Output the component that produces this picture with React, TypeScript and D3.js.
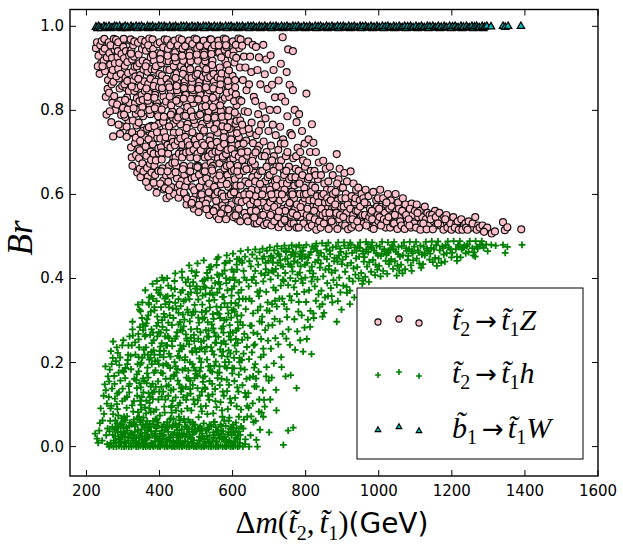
import { scaleLinear, symbol, symbolTriangle } from "d3";

// axis ticks
const X_TICKS = [200, 400, 600, 800, 1000, 1200, 1400, 1600];
const Y_TICKS = [0, 0.2, 0.4, 0.6, 0.8, 1.0];

// Br(t2 -> t1 Z), [dm, br]
const PINK_Z: [number, number][] = [
  // 220-300
  [226,.948],[229,.962],[233,.93],[236,.887],[238,.955],[240,.912],[231,.905],
  [242,.965],[245,.94],[247,.918],[249,.97],[251,.893],[253,.832],[255,.79],[257,.955],[259,.872],[244,.905],[250,.947],[256,.926],[258,.851],
  [261,.962],[263,.936],[265,.909],[267,.884],[269,.862],[271,.818],[273,.738],[275,.97],[277,.944],[279,.801],[262,.842],[266,.955],[268,.772],[270,.925],[272,.896],[274,.868],[276,.834],[278,.912],[264,.798],
  [281,.968],[283,.951],[285,.927],[287,.899],[289,.876],[291,.852],[293,.823],[295,.789],[297,.762],[299,.959],[282,.881],[284,.814],[286,.941],[288,.766],[290,.913],[292,.744],[294,.887],[296,.934],[298,.858],[300,.806],[287,.962],
  // 300-380
  [301,.951],[303,.924],[305,.906],[307,.878],[309,.853],[311,.831],[313,.802],[315,.776],[317,.745],[319,.966],[302,.97],[304,.862],[306,.784],[308,.941],[310,.737],[312,.915],[314,.889],[316,.846],[318,.818],[320,.938],[310,.761],
  [303,.79],[312,.87],[317,.93],[306,.825],
  [321,.969],[323,.944],[325,.921],[327,.893],[329,.871],[331,.846],[333,.818],[335,.792],[337,.764],[339,.742],[322,.712],[324,.688],[326,.668],[328,.955],[330,.928],[332,.904],[334,.881],[336,.853],[338,.829],[340,.801],[327,.776],[333,.722],[336,.694],[339,.652],[325,.748],[331,.964],
  [322,.935],[329,.805],[335,.735],[338,.905],[324,.857],
  [341,.961],[343,.933],[345,.912],[347,.884],[349,.858],[351,.837],[353,.808],[355,.786],[357,.758],[359,.737],[342,.709],[344,.686],[346,.661],[348,.641],[350,.968],[352,.946],[354,.918],[356,.897],[358,.869],[360,.846],[345,.822],[350,.793],[355,.751],[358,.697],[343,.771],[353,.674],[347,.727],
  [342,.875],[349,.745],[354,.825],[359,.955],[346,.705],[356,.655],
  [361,.964],[363,.942],[365,.913],[367,.892],[369,.863],[371,.841],[373,.813],[375,.791],[377,.763],[379,.742],[362,.714],[364,.692],[366,.663],[368,.642],[370,.618],[372,.971],[374,.948],[376,.926],[378,.898],[380,.877],[364,.852],[368,.823],[372,.801],[376,.702],[366,.756],[374,.673],[378,.652],[370,.731],
  [362,.905],[367,.832],[371,.76],[377,.682],[363,.63],[375,.875],[369,.955],
  // 380-460
  [381,.969],[383,.946],[385,.918],[387,.897],[389,.868],[391,.847],[393,.818],[395,.796],[397,.768],[399,.747],[382,.719],[384,.697],[386,.668],[388,.646],[390,.622],[392,.604],[394,.958],[396,.936],[398,.908],[400,.887],[384,.858],[388,.837],[392,.809],[396,.786],[398,.698],[386,.762],[394,.734],[390,.681],[397,.656],
  [382,.932],[387,.805],[393,.748],[399,.855],[384,.628],[397,.71],[390,.905],[386,.83],
  [401,.962],[403,.934],[405,.912],[407,.883],[409,.862],[411,.833],[413,.812],[415,.783],[417,.762],[419,.591],[402,.733],[404,.712],[406,.683],[408,.662],[410,.633],[412,.612],[414,.969],[416,.947],[418,.918],[420,.897],[404,.868],[408,.847],[412,.748],[416,.727],[406,.802],[410,.773],[414,.698],[418,.645],[402,.626],[418,.821],
  [402,.922],[407,.853],[412,.785],[417,.736],[404,.655],[419,.875],[410,.95],[415,.615],[406,.7],
  [421,.968],[423,.946],[425,.917],[427,.896],[429,.867],[431,.846],[433,.818],[435,.797],[437,.768],[439,.747],[422,.718],[424,.697],[426,.668],[428,.597],[430,.647],[432,.618],[434,.961],[436,.933],[438,.912],[440,.883],[424,.862],[428,.833],[432,.812],[436,.783],[438,.686],[426,.762],[434,.733],[430,.712],[440,.601],[422,.655],
  [422,.93],[427,.855],[431,.79],[437,.725],[424,.63],[439,.905],[430,.955],[435,.675],[426,.61],
  [441,.966],[443,.938],[445,.917],[447,.888],[449,.867],[451,.838],[453,.817],[455,.788],[457,.767],[459,.738],[442,.717],[444,.688],[446,.667],[448,.638],[450,.617],[452,.592],[454,.971],[456,.948],[458,.927],[460,.898],[444,.877],[448,.848],[452,.827],[456,.798],[458,.702],[446,.777],[454,.748],[450,.727],[460,.632],[442,.676],[456,.606],
  [442,.926],[447,.858],[451,.783],[457,.733],[444,.653],[459,.905],[450,.955],[455,.623],[446,.823],[453,.697],
  // 460-540
  [461,.968],[463,.947],[465,.918],[467,.897],[469,.868],[471,.847],[473,.818],[475,.797],[477,.768],[479,.747],[462,.718],[464,.697],[466,.668],[468,.647],[470,.618],[472,.597],[474,.576],[476,.958],[478,.937],[480,.908],[464,.887],[468,.858],[472,.837],[476,.808],[478,.716],[466,.787],[474,.758],[470,.737],[480,.656],[462,.688],[476,.632],[467,.604],
  [462,.93],[467,.853],[471,.787],[477,.726],[464,.66],[479,.878],[470,.953],[475,.59],[466,.828],[473,.7],
  [481,.966],[483,.938],[485,.917],[487,.888],[489,.867],[491,.838],[493,.817],[495,.788],[497,.767],[499,.738],[482,.717],[484,.688],[486,.667],[488,.638],[490,.617],[492,.588],[494,.566],[496,.971],[498,.948],[500,.927],[484,.898],[488,.877],[492,.848],[496,.827],[498,.723],[486,.798],[494,.777],[490,.748],[500,.667],[482,.702],[496,.641],[487,.576],[499,.602],
  [482,.93],[487,.852],[491,.785],[497,.73],[484,.655],[499,.883],[490,.958],[495,.61],[486,.827],[493,.706],[488,.58],
  [501,.969],[503,.947],[505,.918],[507,.897],[509,.868],[511,.847],[513,.818],[515,.797],[517,.768],[519,.747],[502,.718],[504,.697],[506,.668],[508,.647],[510,.618],[512,.597],[514,.568],[516,.958],[518,.937],[520,.908],[504,.887],[508,.858],[512,.837],[516,.808],[518,.706],[506,.787],[514,.758],[510,.737],[520,.656],[502,.686],[516,.632],[507,.558],[519,.586],
  [502,.933],[507,.851],[511,.79],[517,.723],[504,.665],[519,.88],[510,.953],[515,.6],[506,.826],[513,.705],[508,.575],
  [521,.966],[523,.938],[525,.917],[527,.888],[529,.867],[531,.838],[533,.817],[535,.788],[537,.767],[539,.738],[522,.717],[524,.688],[526,.667],[528,.638],[530,.617],[532,.588],[534,.566],[536,.551],[538,.969],[540,.948],[524,.927],[528,.898],[532,.877],[536,.848],[538,.702],[526,.827],[534,.798],[530,.777],[540,.676],[522,.752],[536,.626],[527,.578],[539,.602],
  [522,.932],[527,.855],[531,.782],[537,.728],[524,.655],[539,.88],[530,.955],[535,.605],[526,.81],[533,.69],[528,.565],
  // 540-620
  [541,.969],[543,.947],[545,.918],[547,.897],[549,.868],[551,.847],[553,.818],[555,.797],[557,.768],[559,.747],[542,.718],[544,.697],[546,.668],[548,.647],[550,.618],[552,.597],[554,.568],[556,.548],[558,.958],[560,.937],[544,.908],[548,.887],[552,.858],[556,.837],[558,.712],[546,.808],[554,.787],[550,.756],[560,.686],[542,.662],[556,.636],[547,.561],[559,.606],
  [542,.934],[547,.852],[551,.783],[557,.725],[544,.657],[559,.878],[550,.955],[555,.585],[546,.83],[553,.702],[548,.56],
  [561,.966],[563,.938],[565,.902],[567,.874],[569,.851],[571,.823],[573,.801],[575,.773],[577,.752],[579,.724],[562,.702],[564,.674],[566,.652],[568,.624],[570,.602],[572,.574],[574,.552],[576,.971],[578,.944],[580,.918],[564,.848],[568,.798],[572,.762],[576,.736],[578,.662],[566,.712],[574,.686],[570,.636],[580,.588],[562,.541],[577,.566],[569,.926],
  [562,.955],[567,.862],[571,.785],[577,.72],[564,.645],[579,.83],[570,.888],[575,.595],[566,.812],[573,.69],[568,.555],
  [581,.969],[583,.951],[585,.908],[587,.886],[589,.858],[591,.832],[593,.798],[595,.772],[597,.746],[599,.718],[582,.696],[584,.668],[586,.646],[588,.618],[590,.596],[592,.568],[594,.551],[596,.961],[598,.936],[600,.882],[584,.842],[588,.786],[592,.756],[596,.731],[598,.656],[586,.706],[594,.681],[590,.632],[600,.606],[582,.541],[597,.576],[589,.934],
  [582,.955],[587,.87],[591,.8],[597,.708],[584,.625],[599,.845],[590,.895],[595,.6],[586,.76],[593,.67],[588,.565],
  [601,.964],[603,.941],[605,.914],[607,.872],[609,.838],[611,.812],[613,.786],[615,.758],[617,.736],[619,.708],[602,.686],[604,.658],[606,.636],[608,.608],[610,.586],[612,.558],[614,.541],[616,.971],[618,.948],[620,.902],[604,.822],[608,.768],[612,.746],[616,.718],[618,.646],[606,.696],[614,.668],[610,.621],[620,.596],[602,.546],[617,.566],[609,.956],
  [602,.93],[607,.855],[611,.775],[617,.69],[604,.605],[619,.825],[610,.925],[615,.585],[606,.795],[613,.655],[608,.55],
  // 620-700
  [622,.969],[626,.954],[631,.928],[635,.902],[628,.872],[638,.848],[624,.822],[633,.798],[621,.776],[629,.752],[637,.728],[623,.706],[627,.682],[631,.656],[635,.631],[639,.606],[625,.582],[633,.556],[621,.536],[637,.546],[630,.721],[640,.692],[622,.621],[626,.766],[634,.666],[638,.586],
  [643,.964],[648,.928],[655,.956],[651,.891],[645,.862],[658,.832],[642,.796],[652,.771],[647,.746],[656,.722],[641,.702],[650,.676],[659,.652],[644,.626],[653,.601],[648,.576],[657,.556],[642,.536],[660,.531],[646,.661],[654,.641],[658,.586],[650,.561],[644,.756],[656,.691],[652,.611],
  [664,.951],[672,.926],[668,.896],[676,.862],[662,.822],[670,.791],[678,.766],[665,.741],[673,.716],[680,.691],[661,.671],[669,.646],[677,.621],[663,.596],[671,.571],[679,.551],[666,.531],[674,.536],[668,.706],[676,.656],[662,.631],[670,.611],[678,.586],[664,.561],[672,.751],
  [684,.956],[692,.921],[688,.886],[696,.851],[682,.811],[690,.781],[698,.751],[685,.726],[693,.701],[700,.676],[681,.656],[689,.631],[697,.606],[683,.581],[691,.561],[699,.541],[686,.527],[694,.531],[688,.691],[696,.641],[682,.616],[690,.596],[698,.571],[684,.551],[693,.666],
  [624,.7],[632,.6],[638,.66],[646,.6],[654,.68],[659,.545],[668,.58],[675,.625],[663,.7],[687,.61],[695,.57],[681,.6],
  // 700-800
  [704,.931],[712,.896],[708,.861],[716,.831],[702,.801],[710,.766],[718,.741],[705,.716],[713,.691],[720,.666],[701,.646],[709,.621],[717,.601],[703,.581],[711,.561],[719,.541],[706,.526],[714,.536],[708,.681],[716,.631],[702,.611],[710,.591],[718,.571],[704,.551],[712,.656],
  [737,.974],[732,.911],[726,.871],[734,.832],[722,.801],[730,.761],[738,.731],[725,.706],[733,.681],[740,.656],[721,.636],[729,.616],[737,.596],[723,.576],[731,.556],[739,.537],[726,.522],[734,.531],[728,.666],[736,.626],[722,.601],[730,.586],[738,.566],[724,.546],[732,.721],
  [752,.945],[748,.891],[756,.861],[744,.821],[750,.786],[758,.746],[742,.721],[746,.691],[754,.666],[741,.646],[749,.626],[757,.606],[743,.591],[751,.571],[759,.551],[745,.536],[753,.522],[760,.531],[747,.656],[755,.636],[744,.561],[758,.581],[750,.701],[742,.611],
  [765,.941],[765,.848],[775,.772],[770,.801],[762,.741],[778,.711],[766,.686],[773,.661],[761,.641],[769,.621],[777,.601],[763,.586],[771,.566],[779,.546],[767,.531],[775,.521],[764,.556],[772,.641],[780,.626],[768,.591],[776,.576],[762,.606],[774,.691],
  [782,.791],[790,.751],[797,.721],[785,.701],[793,.681],[781,.656],[788,.636],[796,.616],[784,.601],[792,.581],[799,.561],[786,.546],[794,.531],[781,.521],[789,.556],[797,.591],[783,.626],[791,.646],[798,.666],
  [706,.6],[714,.57],[719,.62],[727,.56],[735,.6],[742,.54],[756,.58],[764,.6],[776,.55],[786,.57],[795,.6],
  // 800-900
  [802,.84],[817,.767],[808,.731],[812,.701],[804,.676],[814,.656],[806,.636],[818,.621],[801,.601],[810,.586],[820,.571],[803,.551],[813,.536],[807,.521],[817,.526],[805,.566],[815,.606],[809,.641],[811,.546],
  [821,.723],[828,.701],[836,.676],[824,.656],[833,.636],[826,.616],[838,.601],[822,.586],[830,.571],[839,.556],[825,.541],[834,.526],[829,.516],[837,.536],[823,.561],[831,.596],[827,.646],[835,.581],
  [848,.68],[855,.661],[842,.646],[851,.626],[858,.611],[844,.596],[853,.581],[860,.566],[846,.551],[856,.536],[841,.521],[850,.531],[857,.546],[843,.566],[849,.601],[854,.556],[859,.591],
  [866,.666],[874,.646],[862,.631],[870,.611],[878,.596],[864,.581],[872,.566],[880,.551],[868,.541],[876,.526],[863,.518],[871,.536],[879,.571],[865,.556],[875,.601],[869,.586],
  [885,.696],[893,.661],[890,.636],[897,.616],[882,.606],[888,.586],[896,.571],[884,.556],[892,.541],[899,.526],[887,.518],[894,.551],[881,.576],[898,.591],[886,.626],
  // 900-1000
  [906,.651],[913,.631],[902,.616],[910,.601],[918,.586],[904,.571],[912,.556],[920,.541],[908,.526],[916,.517],[903,.546],[915,.576],[909,.591],
  [923,.655],[931,.626],[938,.611],[926,.596],[934,.581],[922,.566],[930,.551],[939,.536],[925,.521],[933,.528],[937,.561],[928,.541],[936,.591],
  [944,.616],[953,.601],[948,.586],[957,.576],[942,.561],[951,.546],[959,.531],[946,.521],[955,.551],[941,.536],[949,.571],[958,.591],
  [964,.611],[972,.596],[968,.576],[976,.566],[962,.551],[970,.536],[979,.521],[966,.526],[974,.546],[961,.581],[978,.556],
  [985,.606],[993,.586],[989,.566],[997,.551],[982,.541],[991,.526],[999,.536],[986,.518],[995,.571],[981,.561],[998,.591],
  // 1000-1200
  [1004,.611],[1012,.591],[1008,.571],[1016,.556],[1002,.546],[1010,.531],[1019,.521],[1006,.526],[1014,.541],[1020,.576],[1001,.566],
  [1025,.601],[1033,.586],[1029,.566],[1037,.551],[1022,.536],[1031,.521],[1039,.531],[1027,.546],[1035,.571],[1021,.581],
  [1046,.601],[1053,.581],[1049,.561],[1057,.546],[1042,.531],[1051,.518],[1059,.536],[1044,.551],[1055,.566],
  [1066,.591],[1073,.576],[1069,.556],[1077,.541],[1062,.526],[1071,.518],[1079,.531],[1064,.561],[1075,.551],
  [1090,.578],[1085,.566],[1093,.551],[1082,.541],[1097,.531],[1088,.521],[1099,.561],[1084,.526],
  [1104,.576],[1112,.561],[1108,.546],[1116,.531],[1102,.521],[1119,.546],[1106,.556],[1114,.516],
  [1126,.571],[1133,.556],[1129,.541],[1137,.526],[1122,.531],[1131,.517],[1139,.551],
  [1154,.561],[1146,.551],[1150,.536],[1158,.526],[1142,.541],[1148,.517],[1156,.546],
  [1166,.556],[1173,.541],[1169,.526],[1177,.516],[1162,.531],[1179,.546],
  [1185,.551],[1192,.536],[1188,.521],[1196,.531],[1182,.541],[1199,.516],
  // 1200-1400
  [1204,.546],[1212,.531],[1208,.521],[1216,.536],[1219,.516],
  [1226,.541],[1233,.526],[1229,.516],[1237,.531],[1239,.521],
  [1246,.536],[1253,.521],[1257,.531],[1243,.516],
  [1264,.546],[1272,.526],[1268,.516],[1276,.521],
  [1284,.526],[1292,.516],[1297,.521],[1288,.511],
  [1309,.507],[1318,.512],[1340,.534],[1345,.515],[1352,.522],[1390,.517],
];

// Br(t2 -> t1 h), [dm, br]
const GREEN_H: [number, number][] = [
  // 220-300
  [224,.031],[232,.009],[237,.056],[239,.091],[229,.019],[235,.038],[244,.062],[250,.148],[252,.191],[256,.102],[258,.043],[247,.121],[254,.027],[259,.167],[248,.078],[243,.014],[253,.134],[257,.006],
  [262,0],[268,.003],[274,0],[265,.061],[261,.118],[270,.138],[264,.183],[272,.211],[273,.25],[279,.024],[266,.091],[277,.149],[263,.036],[271,.047],[268,.097],[276,.168],[278,.114],[269,.196],[275,.014],[267,.227],[279,.062],[262,.155],[273,.077],[266,.009],
  [282,0],[289,.002],[296,0],[281,.041],[287,.074],[284,.126],[293,.157],[290,.194],[286,.223],[298,.241],[295,.028],[283,.101],[299,.138],[292,.212],[288,.176],[297,.052],[285,.089],[294,.035],[291,.017],[299,.181],[283,.236],[289,.129],[296,.067],[281,.203],[293,.011],[287,.046],[298,.108],
  // 300-380
  [303,0],[309,.001],[316,0],[302,.033],[311,.072],[305,.114],[318,.149],[307,.187],[314,.218],[301,.253],[309,.046],[317,.129],[312,.196],[304,.023],[306,.163],[315,.241],[319,.057],[310,.092],[308,.009],[313,.206],[303,.071],[320,.031],[316,.144],[302,.178],[318,.262],[306,.063],[311,.118],[314,.014],
  [323,0],[329,.003],[336,0],[321,.027],[330,.064],[325,.098],[338,.139],[322,.184],[334,.219],[327,.264],[333,.048],[339,.121],[326,.297],[331,.161],[324,.241],[337,.022],[328,.083],[335,.012],[340,.196],[332,.035],[336,.158],[321,.216],[339,.067],[326,.279],[330,.108],[324,.053],[338,.172],[333,.248],[329,.019],
  [342,0],[348,.002],[355,0],[359,.004],[341,.338],[352,.306],[346,.284],[357,.231],[343,.213],[355,.162],[349,.141],[360,.093],[344,.071],[353,.024],[358,.013],[347,.058],[341,.082],[356,.129],[345,.151],[350,.199],[359,.219],[342,.268],[354,.291],[348,.322],[351,.041],[345,.009],[358,.047],[343,.179],[353,.343],[356,.069],[347,.109],[360,.262],[344,.236],[350,.088],[352,.016],
  [362,0],[368,.001],[374,0],[380,.003],[361,.372],[372,.355],[366,.303],[378,.279],[363,.236],[375,.211],[369,.164],[380,.128],[364,.109],[373,.055],[377,.036],[367,.021],[362,.052],[376,.082],[370,.127],[365,.151],[379,.196],[368,.219],[374,.266],[361,.287],[371,.338],[378,.358],[366,.029],[370,.044],[364,.007],[372,.207],[376,.143],[363,.079],[379,.246],[367,.188],[373,.104],[369,.312],
  // 380-460
  [383,0],[389,.002],[395,0],[400,.001],[381,.387],[392,.346],[386,.324],[398,.272],[384,.253],[395,.205],[389,.181],[399,.131],[382,.113],[393,.064],[387,.031],[397,.019],[383,.061],[391,.088],[385,.131],[396,.155],[388,.203],[400,.227],[382,.271],[394,.309],[386,.332],[398,.366],[390,.024],[394,.049],[399,.012],[384,.229],[393,.394],[389,.066],[397,.112],[385,.176],[392,.287],[381,.149],
  [402,0],[408,.003],[414,0],[420,.002],[403,.378],[414,.352],[407,.301],[419,.277],[402,.238],[411,.213],[417,.161],[405,.142],[413,.095],[401,.074],[409,.024],[418,.046],[404,.011],[412,.053],[416,.112],[406,.119],[419,.144],[410,.193],[401,.218],[415,.262],[408,.285],[404,.332],[417,.356],[411,.396],[406,.038],[420,.016],[403,.271],[414,.081],[409,.174],[418,.241],[412,.316],[407,.402],
  [422,0],[428,.002],[434,0],[439,.001],[421,.401],[432,.377],[426,.331],[438,.306],[423,.262],[435,.239],[429,.187],[440,.168],[424,.121],[433,.097],[427,.049],[437,.029],[422,.047],[431,.067],[436,.109],[425,.146],[439,.171],[430,.214],[421,.241],[434,.289],[428,.312],[436,.359],[424,.383],[429,.014],[437,.051],[426,.258],[433,.081],[440,.009],[423,.193],[431,.134],[438,.066],[427,.344],
  [442,0],[448,.001],[454,0],[460,.002],[441,.394],[452,.351],[446,.328],[458,.278],[443,.257],[455,.211],[449,.184],[459,.139],[444,.117],[453,.071],[447,.046],[457,.011],[451,.027],[456,.063],[445,.086],[459,.131],[450,.157],[441,.201],[454,.227],[448,.272],[456,.296],[443,.342],[458,.367],[449,.007],[455,.031],[443,.412],[451,.098],[446,.176],[457,.241],[452,.318],
  // 460-540
  [462,0],[468,.002],[474,0],[480,.001],[461,.416],[472,.391],[466,.346],[478,.319],[463,.276],[475,.252],[469,.206],[479,.181],[464,.138],[473,.111],[467,.066],[477,.045],[462,.026],[471,.048],[476,.091],[465,.117],[479,.162],[470,.186],[461,.232],[474,.257],[468,.302],[476,.326],[463,.372],[478,.398],[469,.013],[475,.029],[463,.182],[479,.064],[466,.239],[472,.142],[471,.349],[460,.084],
  [482,0],[488,.002],[494,0],[499,.001],[481,.431],[492,.391],[486,.367],[498,.321],[483,.298],[495,.251],[489,.227],[499,.181],[484,.157],[493,.112],[487,.086],[497,.041],[482,.024],[491,.058],[496,.101],[485,.126],[499,.173],[490,.196],[481,.243],[494,.266],[488,.312],[496,.337],[483,.382],[498,.406],[489,.009],[495,.034],[483,.201],[493,.053],[486,.259],[491,.147],[497,.234],[488,.418],
  [502,0],[508,.001],[514,0],[519,.002],[501,.415],[512,.374],[506,.35],[518,.304],[503,.28],[515,.234],[509,.21],[519,.164],[504,.139],[513,.095],[507,.07],[517,.025],[511,.04],[516,.084],[505,.11],[519,.154],[510,.179],[501,.225],[514,.249],[508,.295],[516,.32],[503,.365],[518,.394],[509,.014],[515,.043],[504,.436],[506,.257],[513,.188],[517,.338],[510,.121],
  [522,0],[528,.002],[534,0],[540,.001],[521,.443],[532,.401],[526,.378],[538,.331],[523,.307],[535,.261],[529,.237],[539,.191],[524,.167],[533,.121],[527,.097],[537,.052],[522,.018],[531,.077],[536,.111],[525,.137],[539,.181],[530,.207],[521,.252],[534,.276],[528,.322],[536,.347],[523,.397],[538,.421],[529,.039],[535,.009],[524,.226],[532,.045],[527,.277],[537,.156],[530,.413],[526,.362],
  // 540-620
  [542,0],[548,.001],[554,0],[559,.002],[541,.428],[552,.389],[546,.361],[558,.318],[543,.291],[555,.247],[549,.219],[559,.176],[544,.149],[553,.108],[547,.079],[557,.036],[551,.059],[556,.094],[545,.124],[559,.163],[550,.192],[541,.236],[554,.262],[548,.304],[556,.333],[543,.377],[558,.409],[549,.021],[555,.012],[544,.227],[552,.137],[547,.281],[557,.446],[550,.349],
  [561,0],[567,.002],[573,0],[579,.001],[561,.451],[572,.411],[566,.386],[578,.341],[563,.316],[575,.271],[569,.246],[579,.201],[564,.176],[573,.131],[567,.106],[577,.062],[562,.027],[571,.086],[576,.121],[565,.146],[579,.191],[570,.216],[561,.261],[574,.286],[568,.331],[576,.356],[563,.407],[578,.436],[569,.048],[575,.017],[566,.231],[572,.071],[577,.301],[564,.376],[570,.161],
  [582,0],[588,.002],[594,0],[599,.001],[581,.437],[592,.397],[586,.372],[598,.324],[583,.302],[595,.254],[589,.229],[599,.187],[584,.159],[593,.114],[587,.089],[597,.046],[582,.016],[591,.069],[596,.104],[585,.132],[599,.174],[590,.201],[581,.244],[594,.272],[588,.317],[596,.342],[583,.389],[598,.421],[589,.034],[595,.008],[586,.214],[592,.289],[597,.359],[584,.455],[590,.147],
  [602,0],[608,.002],[614,0],[619,.001],[601,.459],[612,.421],[606,.396],[618,.351],[603,.326],[615,.281],[609,.256],[619,.211],[604,.186],[613,.141],[607,.116],[617,.071],[602,.036],[611,.096],[616,.131],[605,.156],[619,.201],[610,.226],[601,.271],[614,.296],[608,.341],[616,.366],[603,.416],[618,.446],[609,.057],[615,.026],[606,.241],[612,.311],[617,.171],[604,.381],[611,.433],
  // 620-700
  [628,0],[622,.465],[626,.437],[630,.418],[634,.452],[638,.396],[624,.373],[628,.352],[636,.327],[621,.296],[632,.268],[639,.237],[625,.206],[633,.183],[627,.146],[637,.118],[623,.088],[631,.064],[629,.043],[635,.017],[640,.097],[626,.254],[634,.006],[621,.028],[638,.161],[630,.221],[624,.312],
  [645,0],[642,.468],[646,.441],[650,.429],[654,.457],[658,.404],[644,.381],[652,.346],[656,.317],[648,.288],[641,.259],[653,.224],[659,.188],[647,.164],[643,.127],[655,.103],[651,.072],[657,.058],[649,.027],[660,.143],[645,.208],[653,.397],[657,.271],
  [668,0],[665,.016],[675,.04],[671,.178],[665,.143],[662,.469],[666,.447],[670,.433],[674,.462],[678,.412],[664,.389],[672,.358],[676,.333],[680,.296],[668,.268],[661,.243],[677,.213],[673,.112],[679,.081],[663,.061],[669,.324],[675,.371],[662,.196],
  [684,.071],[688,.095],[686,.111],[700,.034],[682,.471],[686,.452],[690,.437],[694,.466],[698,.414],[684,.393],[692,.368],[696,.343],[681,.309],[689,.277],[697,.252],[685,.219],[693,.189],[699,.157],[683,.134],[691,.422],[698,.442],
  [624,.442],[632,.402],[636,.351],[628,.289],[622,.186],[634,.128],[640,.071],[646,.352],[652,.288],[658,.241],[644,.092],[656,.167],[662,.418],[668,.368],[674,.298],[678,.256],[664,.162],[672,.083],[682,.447],[688,.408],[694,.324],[698,.288],[684,.233],[692,.167],
  // 700-800
  [707,.164],[720,.086],[702,.474],[706,.454],[710,.438],[714,.467],[718,.423],[704,.398],[712,.378],[716,.347],[701,.323],[709,.289],[717,.258],[705,.233],[713,.198],[719,.135],[703,.112],[711,.449],[715,.304],[708,.419],
  [734,.189],[739,.004],[722,.477],[726,.458],[730,.443],[734,.471],[738,.428],[724,.407],[732,.383],[736,.352],[721,.333],[729,.298],[737,.268],[725,.243],[733,.213],[728,.453],[740,.394],[723,.437],
  [745,.167],[759,.17],[752,.038],[757,.242],[742,.478],[746,.463],[750,.447],[754,.471],[758,.433],[744,.413],[752,.384],[756,.358],[741,.339],[749,.308],[753,.279],[747,.257],[760,.456],[744,.446],
  [766,.045],[775,.139],[771,.23],[780,.321],[762,.479],[766,.462],[770,.452],[774,.475],[778,.438],[764,.417],[772,.394],[776,.363],[761,.348],[769,.303],[777,.274],[768,.441],[762,.428],
  [782,.479],[786,.464],[790,.447],[794,.474],[798,.433],[784,.414],[792,.389],[796,.368],[781,.344],[789,.312],[797,.283],[785,.253],[793,.226],[788,.456],[799,.402],[786,.429],
  [704,.452],[712,.416],[718,.372],[708,.339],[724,.459],[732,.431],[738,.397],[728,.352],[746,.466],[752,.434],[758,.401],[748,.327],[764,.463],[772,.459],[778,.409],[768,.379],[784,.452],[792,.466],[798,.452],[788,.399],
  // 800-900
  [802,.48],[814,.463],[807,.449],[818,.476],[804,.437],[811,.418],[816,.393],[809,.372],[801,.344],[813,.323],[806,.302],[819,.404],[803,.256],[810,.457],[817,.428],[812,.285],[816,.22],
  [829,.483],[823,.471],[836,.455],[826,.439],[839,.426],[821,.412],[832,.398],[825,.381],[835,.362],[828,.347],[838,.333],[822,.306],[831,.466],[834,.444],[827,.477],[821,.317],
  [845,.484],[857,.469],[851,.452],[841,.436],[854,.421],[848,.405],[859,.389],[843,.371],[853,.355],[846,.339],[850,.318],[856,.478],[842,.461],[858,.446],[846,.309],
  [862,.485],[874,.474],[867,.458],[878,.441],[864,.43],[871,.414],[876,.396],[869,.377],[861,.358],[873,.343],[866,.466],[879,.449],[863,.422],[871,.358],
  [889,.486],[883,.476],[896,.463],[886,.448],[899,.434],[881,.419],[892,.402],[885,.385],[895,.367],[888,.346],[898,.326],[885,.297],[891,.455],[894,.471],[887,.44],
  // 900-1000
  [905,.486],[917,.472],[911,.459],[901,.445],[914,.431],[908,.416],[919,.4],[903,.383],[913,.366],[906,.478],[910,.452],[912,.38],
  [922,.485],[934,.474],[927,.461],[938,.448],[924,.437],[931,.424],[936,.409],[929,.393],[921,.371],[933,.355],[921,.339],[939,.466],[923,.48],
  [949,.486],[943,.477],[956,.465],[946,.452],[959,.44],[941,.427],[952,.413],[945,.4],[955,.387],[948,.473],[958,.459],[957,.395],
  [965,.487],[977,.475],[971,.463],[961,.451],[974,.439],[968,.428],[979,.416],[963,.404],[973,.392],[966,.469],[970,.481],
  [982,.486],[994,.478],[987,.467],[998,.455],[984,.444],[991,.433],[996,.421],[990,.408],[981,.473],[993,.46],
  // 1000-1200
  [1009,.487],[1003,.476],[1016,.465],[1006,.453],[1019,.442],[1001,.43],[1012,.418],[1005,.405],[1015,.47],[1008,.459],
  [1025,.486],[1037,.479],[1031,.468],[1021,.456],[1034,.446],[1028,.434],[1039,.423],[1023,.411],[1033,.472],[1026,.461],[1030,.44],
  [1042,.487],[1054,.475],[1047,.464],[1058,.452],[1044,.441],[1051,.43],[1056,.419],[1049,.407],[1041,.469],[1053,.458],
  [1069,.486],[1063,.477],[1076,.466],[1066,.455],[1079,.444],[1061,.433],[1072,.422],[1065,.412],[1075,.472],
  [1085,.487],[1097,.476],[1091,.465],[1081,.454],[1094,.443],[1088,.431],[1090,.418],[1083,.47],[1093,.46],
  [1102,.487],[1114,.478],[1107,.467],[1118,.457],[1104,.447],[1111,.436],[1116,.425],[1109,.462],
  [1129,.487],[1123,.476],[1136,.466],[1126,.455],[1139,.445],[1121,.434],[1132,.471],[1125,.46],
  [1145,.488],[1157,.479],[1151,.469],[1141,.459],[1154,.449],[1148,.439],[1159,.43],[1143,.473],
  [1162,.488],[1174,.477],[1167,.467],[1178,.457],[1164,.447],[1171,.437],[1176,.472],
  [1189,.488],[1183,.479],[1196,.47],[1186,.46],[1199,.45],[1181,.44],[1192,.474],
  // 1200-1400
  [1205,.489],[1217,.48],[1211,.47],[1201,.461],[1214,.452],[1214,.442],[1219,.475],
  [1222,.489],[1234,.479],[1227,.469],[1238,.46],[1224,.45],[1231,.473],
  [1249,.489],[1243,.481],[1256,.472],[1246,.463],[1259,.455],[1241,.477],
  [1265,.489],[1277,.48],[1271,.471],[1261,.462],[1264,.452],[1268,.476],
  [1282,.489],[1294,.481],[1287,.473],[1298,.465],[1284,.478],
  [1308,.48],[1320,.478],[1340,.48],[1346,.461],[1352,.475],[1392,.48],
  // dense low band, 270-625
  [272,.028],[276,.041],[280,.009],[284,.055],[288,.018],[286,.033],[279,.047],
  [292,.052],[295,.008],[298,.023],[301,.044],[304,.012],[307,.031],[302,.061],
  [312,.038],[315,.021],[318,.049],[321,.008],[324,.032],[327,.015],[329,.056],
  [331,.026],[334,.052],[338,.007],[341,.039],[344,.021],[347,.031],[349,.063],
  [351,.024],[354,.052],[357,.008],[360,.033],[363,.018],[366,.061],[368,.039],
  [371,.022],[374,.047],[377,.009],[381,.026],[384,.052],[387,.013],[389,.037],
  [391,.044],[394,.021],[397,.057],[401,.031],[404,.008],[407,.046],[409,.019],
  [411,.028],[414,.039],[417,.011],[421,.058],[424,.035],[427,.021],[429,.065],
  [431,.025],[434,.047],[437,.013],[441,.033],[444,.055],[447,.022],[449,.039],
  [451,.014],[454,.052],[457,.024],[461,.041],[464,.009],[467,.031],[469,.058],
  [471,.023],[474,.046],[477,.012],[481,.035],[484,.057],[487,.019],[489,.041],
  [491,.029],[494,.015],[497,.052],[501,.036],[504,.008],[507,.044],[509,.023],
  [511,.047],[514,.019],[517,.031],[521,.055],[524,.011],[527,.038],[529,.024],
  [531,.017],[534,.041],[537,.026],[541,.049],[544,.013],[547,.034],[549,.058],
  [551,.028],[554,.046],[557,.012],[561,.039],[564,.021],[567,.052],[569,.031],
  [571,.018],[574,.037],[577,.024],[581,.049],[584,.011],[587,.029],[589,.061],
  [591,.015],[594,.042],[597,.027],[601,.052],[604,.012],[607,.033],[609,.021],
  [611,.044],[614,.018],[617,.036],[620,.009],[623,.048],
  // extra body points, 340-620
  [343,.255],[347,.195],[351,.118],[355,.277],[358,.156],[345,.326],[353,.211],[349,.099],
  [362,.266],[366,.174],[370,.342],[374,.118],[378,.225],[364,.293],[372,.091],[376,.321],
  [382,.352],[386,.219],[390,.142],[394,.262],[398,.196],[384,.084],[392,.373],[396,.295],
  [402,.361],[406,.246],[410,.131],[414,.308],[418,.197],[404,.176],[412,.228],[416,.339],
  [422,.358],[426,.221],[430,.162],[434,.251],[438,.136],[424,.295],[432,.094],[436,.329],
  [442,.375],[446,.262],[450,.216],[454,.148],[458,.334],[444,.191],[452,.291],[456,.104],
  [462,.402],[466,.286],[470,.213],[474,.164],[478,.362],[464,.314],[472,.267],[476,.122],
  [482,.351],[486,.279],[490,.224],[494,.188],[498,.376],[484,.137],[492,.321],[496,.163],
  [502,.381],[506,.307],[510,.232],[514,.201],[518,.359],[504,.168],[512,.272],[516,.131],
  [522,.381],[526,.322],[530,.262],[534,.191],[538,.365],[524,.141],[532,.296],[536,.427],
  [542,.401],[546,.315],[550,.271],[554,.202],[558,.366],[544,.178],[552,.247],[556,.432],
  [562,.392],[566,.306],[570,.281],[574,.226],[578,.419],[564,.191],[572,.356],[576,.251],
  [582,.401],[586,.332],[590,.262],[594,.222],[598,.375],[584,.187],[592,.442],[596,.307],
  [602,.402],[606,.321],[610,.276],[614,.246],[618,.391],[604,.211],[612,.446],[616,.336],
];

// Br(b1 -> t1 W), [dm, br]
const CYAN_W: [number, number][] = [
  [226,.998],[230,.995],[233,1],[237,.997],[241,.995],[248,1],[251,.996],[254,.998],[262,1],[266,.995],[270,.997],[277,1],[280,.996],[283,.999],[291,1],[295,.995],
  [300,.997],[306,1],[310,.995],[313,.998],[322,1],[325,.996],[329,.997],[336,1],[340,.995],[344,.999],[351,1],[355,.996],[358,.997],[367,1],[370,.995],
  [374,.998],[381,1],[385,.996],[390,.997],[398,1],[401,.995],[405,.999],[413,1],[416,.996],[420,.997],[428,1],[432,.995],[437,.998],[444,1],[447,.996],
  [451,.997],[459,1],[462,.995],[466,.999],[474,1],[478,.996],[482,.997],[489,1],[493,.995],[497,.998],[505,1],[508,.996],[512,.997],[520,1],[523,.995],
  [527,.999],[535,1],[539,.996],[543,.997],[550,1],[554,.995],[558,.998],[566,1],[569,.996],[573,.997],[581,1],[585,.995],[589,.999],[596,1],[600,.996],
  [604,.997],[612,1],[615,.995],[619,.998],[627,1],[631,.996],[635,.997],[642,1],[646,.995],[650,.999],[657,1],[661,.996],[665,.997],[673,1],[676,.995],
  [680,.998],[688,1],[692,.996],[696,.997],[703,1],[707,.995],[711,.999],[719,1],[722,.996],[726,.997],[734,1],[738,.995],[742,.998],[749,1],[753,.996],
  [757,.997],[765,1],[768,.995],[772,.999],[780,1],[784,.996],[788,.997],[795,1],[799,.995],[803,.998],[811,1],[814,.996],[818,.997],[826,1],[830,.995],
  [834,.999],[841,1],[845,.996],[849,.997],[857,1],[860,.995],[864,.998],[872,1],[876,.996],[880,.997],[887,1],[891,.995],[895,.999],[903,1],[906,.996],
  [910,.997],[918,1],[922,.995],[926,.998],[933,1],[937,.996],[941,.997],[949,1],[952,.995],[956,.999],[964,1],[968,.996],[972,.997],[979,1],[983,.995],
  [987,.998],[995,1],[998,.996],[1002,.997],[1010,1],[1014,.995],[1018,.999],[1025,1],[1029,.996],[1033,.997],[1041,1],[1044,.995],[1048,.998],[1056,1],[1060,.996],
  [1064,.997],[1071,1],[1075,.995],[1079,.999],[1087,1],[1090,.996],[1094,.997],[1102,1],[1106,.995],[1110,.998],[1117,1],[1121,.996],[1125,.997],[1133,1],[1136,.995],
  [1140,.999],[1148,1],[1152,.996],[1156,.997],[1163,1],[1167,.995],[1171,.998],[1179,1],[1182,.996],[1186,.997],[1194,1],[1198,.995],[1202,.999],[1209,1],[1213,.996],
  [1217,.997],[1225,1],[1228,.995],[1232,.998],[1240,1],[1244,.996],[1248,.997],[1255,1],[1259,.995],[1262,.999],[1268,1],[1271,.996],[1275,.997],[1283,1],[1286,.995],
  [1290,.998],[1296,1],[1307,.999],[1340,1],[1346,.998],[1354,1],[1389,1],
];

const LEGEND_LABELS = [
  { head: "t", sub: "2", tail: "Z" },
  { head: "t", sub: "2", tail: "h" },
  { head: "b", sub: "1", tail: "W" },
];

const W = 623;
const H = 553;
const PLOT = { left: 70, right: 598, top: 9.5, bottom: 476 };
const PINK = "#ffc0cb";
const GREEN = "#008000";
const CYAN = "#00bfbf";
const SERIF = "'Liberation Serif', 'DejaVu Serif', serif";
const SANS = "'DejaVu Sans', sans-serif";

const plusPath = (s: number) => `M${-s},0H${s}M0,${-s}V${s}`;

export default function App() {
  const x = scaleLinear().domain([155, 1600]).range([PLOT.left, PLOT.right]);
  const y = scaleLinear().domain([-0.07, 1.04]).range([PLOT.bottom, PLOT.top]);
  const tri = symbol(symbolTriangle, 24)() ?? "";
  const triSmall = symbol(symbolTriangle, 14)() ?? "";

  const tickLen = 6;
  const legend = { x: 357, y: 288, w: 226, h: 171 };
  const legendRows = [322, 375, 430];
  const legendMarkX = [378, 399, 419];
  const legendJitter = [0, -3, 1];

  const renderMarker = (row: number, cx: number, cy: number, key: string) => {
    if (row === 0)
      return <circle key={key} cx={cx} cy={cy} r={3.1} fill={PINK} stroke="#000" strokeWidth={1.1} />;
    if (row === 1)
      return (
        <path key={key} d={plusPath(2.9)} transform={`translate(${cx},${cy})`} stroke={GREEN} strokeWidth={1.6} fill="none" />
      );
    return <path key={key} d={triSmall} transform={`translate(${cx},${cy})`} fill={CYAN} stroke="#000" strokeWidth={1.1} />;
  };

  return (
    <svg width={W} height={H} style={{ position: "absolute", left: 0, top: 0, background: "#fff" }}>
      <defs>
        <clipPath id="plot-clip">
          <rect x={PLOT.left} y={PLOT.top} width={PLOT.right - PLOT.left} height={PLOT.bottom - PLOT.top} />
        </clipPath>
      </defs>
      <rect x={0} y={0} width={W} height={H} fill="#fff" />

      <g clipPath="url(#plot-clip)">
        {PINK_Z.map(([dx, br], i) => (
          <circle key={`z${i}`} cx={x(dx)} cy={y(br)} r={3.5} fill={PINK} stroke="#111" strokeWidth={1.15} />
        ))}
        {GREEN_H.map(([dx, br], i) => (
          <path
            key={`h${i}`}
            d={plusPath(3.4)}
            transform={`translate(${x(dx)},${y(br)})`}
            stroke={GREEN}
            strokeWidth={1.8}
            fill="none"
          />
        ))}
        {CYAN_W.map(([dx, br], i) => (
          <path key={`w${i}`} d={tri} transform={`translate(${x(dx)},${y(br)})`} fill={CYAN} stroke="#000" strokeWidth={1.25} />
        ))}
      </g>

      {/* ticks on all four sides, pointing inward */}
      <g stroke="#000" strokeWidth={1}>
        {X_TICKS.map((t) => (
          <g key={`xt${t}`}>
            <line x1={x(t)} x2={x(t)} y1={PLOT.bottom} y2={PLOT.bottom - tickLen} />
            <line x1={x(t)} x2={x(t)} y1={PLOT.top} y2={PLOT.top + tickLen} />
          </g>
        ))}
        {Y_TICKS.map((t) => (
          <g key={`yt${t}`}>
            <line x1={PLOT.left} x2={PLOT.left + tickLen} y1={y(t)} y2={y(t)} />
            <line x1={PLOT.right} x2={PLOT.right - tickLen} y1={y(t)} y2={y(t)} />
          </g>
        ))}
      </g>
      <rect
        x={PLOT.left}
        y={PLOT.top}
        width={PLOT.right - PLOT.left}
        height={PLOT.bottom - PLOT.top}
        fill="none"
        stroke="#000"
        strokeWidth={1.4}
      />

      <g fontFamily={SANS} fontSize={15} fill="#000">
        {X_TICKS.map((t) => (
          <text key={`xl${t}`} x={x(t)} y={PLOT.bottom + 20} textAnchor="middle">
            {t}
          </text>
        ))}
        {Y_TICKS.map((t) => (
          <text key={`yl${t}`} x={PLOT.left - 6} y={y(t) + 5} textAnchor="end">
            {t.toFixed(1)}
          </text>
        ))}
      </g>

      {/* axis titles */}
      <text transform="translate(32,238) rotate(-90)" textAnchor="middle" fontFamily={SERIF} fontStyle="italic" fontSize={35}>
        Br
      </text>
      <text x={332} y={533} textAnchor="middle" fontSize={31} fontFamily={SERIF}>
        <tspan>Δ</tspan>
        <tspan fontStyle="italic">m</tspan>
        <tspan>(</tspan>
        <tspan fontStyle="italic">t&#x0303;</tspan>
        <tspan fontSize={20} dy={7}>2</tspan>
        <tspan dy={-7}>,</tspan>
        <tspan dx={5} fontStyle="italic">t&#x0303;</tspan>
        <tspan fontSize={20} dy={7}>1</tspan>
        <tspan dy={-7}>)</tspan>
        <tspan fontFamily={SANS} fontSize={28}>(GeV)</tspan>
      </text>

      {/* legend */}
      <rect x={legend.x} y={legend.y} width={legend.w} height={legend.h} fill="#fff" stroke="#000" strokeWidth={1} />
      {LEGEND_LABELS.map((lab, row) => (
        <g key={`lg${row}`}>
          {legendMarkX.map((mx, k) =>
            renderMarker(row, mx, legendRows[row] + legendJitter[k], `lm${row}-${k}`)
          )}
          <text x={452} y={legendRows[row] + 8} fontFamily={SERIF} fontSize={30}>
            <tspan fontStyle="italic">{`${lab.head}\u0303`}</tspan>
            <tspan fontSize={20} dy={6}>{lab.sub}</tspan>
            <tspan dy={-6} dx={5} fontFamily={SANS} fontSize={26}>{"\u2192"}</tspan>
            <tspan dx={4} fontStyle="italic">{"t\u0303"}</tspan>
            <tspan fontSize={20} dy={6}>1</tspan>
            <tspan dy={-6} fontStyle="italic">{lab.tail}</tspan>
          </text>
        </g>
      ))}
    </svg>
  );
}
